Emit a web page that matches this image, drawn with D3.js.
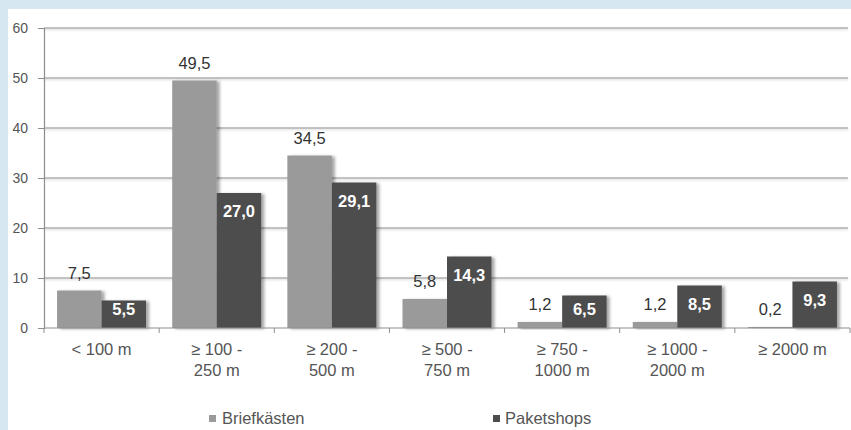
<!DOCTYPE html>
<html><head><meta charset="utf-8">
<script src="https://cdn.jsdelivr.net/npm/d3@7"></script>
<style>
html,body{margin:0;padding:0;background:#d7e7f1;}
svg{display:block;font-family:"Liberation Sans",Arial,sans-serif;}
</style></head>
<body>
<svg id="chart" width="851" height="430"></svg>
<script>
const categories = [["< 100 m"], ["≥ 100 -", "250 m"], ["≥ 200 -", "500 m"], ["≥ 500 -", "750 m"], ["≥ 750 -", "1000 m"], ["≥ 1000 -", "2000 m"], ["≥ 2000 m"]];
const seriesNames = ["Briefkästen", "Paketshops"];
const briefkaesten = [7.5, 49.5, 34.5, 5.8, 1.2, 1.2, 0.2];
const paketshops = [5.5, 27.0, 29.1, 14.3, 6.5, 8.5, 9.3];
const yTicks = [0, 10, 20, 30, 40, 50, 60];
const colors = ["#9a9a9a", "#4d4d4d"];

(function () {
const svg = d3.select("#chart");
const W = 851, H = 430;
const mLeft = 44, mRight = 850, mTop = 28, mBottom = 328;

// panel
svg.append("rect").attr("x", 0).attr("y", 0).attr("width", W).attr("height", H).attr("fill", "#d7e7f1");
svg.append("rect").attr("x", 8).attr("y", 9).attr("width", W - 8).attr("height", H - 9).attr("fill", "#ffffff");

const defs = svg.append("defs");
const f = defs.append("filter").attr("id", "sh").attr("x", "-20%").attr("y", "-20%").attr("width", "150%").attr("height", "140%");
f.append("feDropShadow").attr("dx", 3).attr("dy", 1).attr("stdDeviation", 1.6).attr("flood-color", "#000").attr("flood-opacity", 0.35);
const fl = defs.append("filter").attr("id", "lsh").attr("filterUnits", "userSpaceOnUse").attr("x", 0).attr("y", 0).attr("width", W).attr("height", H);
fl.append("feDropShadow").attr("dx", 0).attr("dy", 1.2).attr("stdDeviation", 0.8).attr("flood-color", "#000").attr("flood-opacity", 0.25);

const y = d3.scaleLinear().domain([0, 60]).range([mBottom, mTop]);
const x0 = d3.scaleBand().domain(d3.range(categories.length)).range([mLeft, mRight]).paddingInner(0.227).paddingOuter(0.1135);
const x1 = d3.scaleBand().domain([0, 1]).range([0, x0.bandwidth()]).padding(0);

// gridlines
svg.append("g").attr("filter", "url(#lsh)").selectAll("line").data(yTicks.filter(d => d > 0)).join("line")
  .attr("x1", mLeft).attr("x2", 848).attr("y1", d => y(d)).attr("y2", d => y(d))
  .attr("stroke", "#8e8e8e").attr("stroke-width", 1.2);

// y axis
const yAxis = d3.axisLeft(y).tickValues(yTicks).tickSize(6).tickPadding(10).tickFormat(d3.format("d"));
const gy = svg.append("g").attr("transform", `translate(${mLeft},0)`).call(yAxis);
gy.select(".domain").attr("stroke", "#8e8e8e").attr("stroke-width", 1.2);
gy.selectAll(".tick line").attr("stroke", "#8e8e8e");
gy.selectAll(".tick text").attr("fill", "#555").attr("font-size", 14).attr("font-family", "Liberation Sans, Arial, sans-serif");

// bars
const data = categories.map((c, i) => ({i, vals: [briefkaesten[i], paketshops[i]]}));
const groups = svg.append("g").selectAll("g").data(data).join("g")
  .attr("transform", d => `translate(${x0(d.i)},0)`);
groups.selectAll("rect").data(d => d.vals.map((v, k) => ({v, k}))).join("rect")
  .attr("x", d => x1(d.k)).attr("width", x1.bandwidth())
  .attr("y", d => y(d.v)).attr("height", d => y(0) - y(d.v))
  .attr("fill", d => colors[d.k]).attr("filter", "url(#sh)");

// x axis
const xAxisScale = d3.scaleLinear().domain([0, categories.length]).range([mLeft, mRight]);
svg.append("line").attr("x1", mLeft).attr("x2", mRight).attr("y1", mBottom).attr("y2", mBottom)
  .attr("stroke", "#8e8e8e").attr("stroke-width", 1.2);
svg.append("g").selectAll("line").data(d3.range(categories.length + 1)).join("line")
  .attr("x1", d => xAxisScale(d)).attr("x2", d => xAxisScale(d)).attr("y1", mBottom).attr("y2", mBottom + 5)
  .attr("stroke", "#8e8e8e");

const fmt = v => v.toFixed(1).replace(".", ",");

// value labels
groups.selectAll("text.val").data(d => d.vals.map((v, k) => ({v, k}))).join("text")
  .attr("class", "val")
  .attr("x", d => x1(d.k) + x1.bandwidth() / 2)
  .attr("y", d => d.k === 0 ? y(d.v) - 12 : Math.min(y(d.v) + 24, y(0) - 13))
  .attr("text-anchor", "middle")
  .attr("font-size", 16.5)
  .attr("font-weight", d => d.k === 0 ? "normal" : "bold")
  .attr("fill", d => d.k === 0 ? "#333" : "#fff")
  .text(d => fmt(d.v));

// category labels
const cl = svg.append("g").selectAll("text").data(categories.map((c, i) => ({c, i}))).join("text")
  .attr("x", d => x0(d.i) + x0.bandwidth() / 2)
  .attr("y", 355)
  .attr("text-anchor", "middle").attr("font-size", 16.5).attr("fill", "#555");
cl.selectAll("tspan").data(d => d.c.map(t => ({t, x: x0(d.i) + x0.bandwidth() / 2}))).join("tspan")
  .attr("x", d => d.x).attr("dy", (d, j) => j === 0 ? 0 : 21).text(d => d.t);

// legend
const legendX = [209, 493];
const lg = svg.append("g").selectAll("g").data(seriesNames).join("g")
  .attr("transform", (d, i) => `translate(${legendX[i]},0)`);
lg.append("rect").attr("x", 0).attr("y", 415).attr("width", 7).attr("height", 7).attr("fill", (d, i) => colors[i]);
lg.append("text").attr("x", (d, i) => i === 0 ? 13 : 12).attr("y", 424).attr("font-size", 16.5).attr("fill", "#555").text(d => d);
})();
</script>
</body></html>
